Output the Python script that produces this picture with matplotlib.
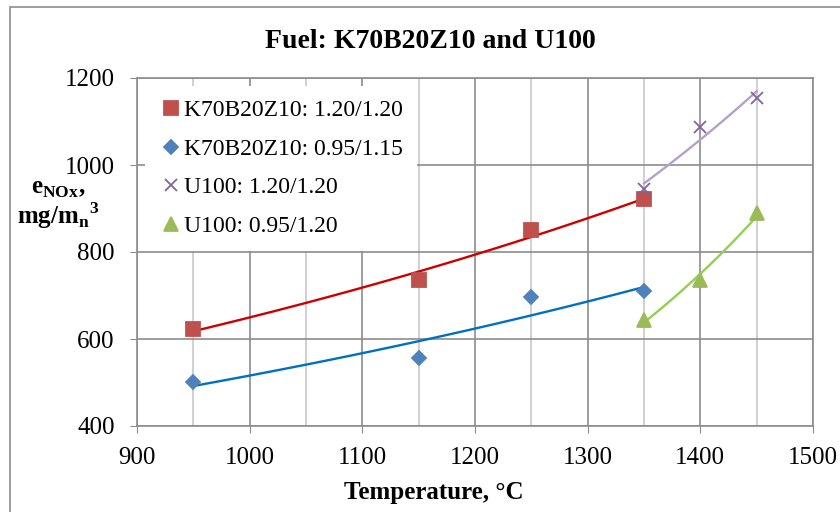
import numpy as np
import matplotlib.pyplot as plt
from matplotlib.ticker import MultipleLocator
from matplotlib.patches import Rectangle

plt.rcParams['font.family'] = ['Liberation Serif', 'DejaVu Serif']
plt.rcParams['mathtext.fontset'] = 'custom'
plt.rcParams['mathtext.rm'] = 'Liberation Serif'
plt.rcParams['mathtext.bf'] = 'Liberation Serif:bold'

# data
t_k_120 = [950, 1150, 1250, 1350]
e_k_120 = [623, 736, 850, 922]
t_k_095 = [950, 1150, 1250, 1350]
e_k_095 = [501, 556, 697, 710]
t_u_120 = [1350, 1400, 1450]
e_u_120 = [945, 1087, 1154]
t_u_095 = [1350, 1400, 1450]
e_u_095 = [644, 736, 890]

labels = ['K70B20Z10: 1.20/1.20', 'K70B20Z10: 0.95/1.15',
          'U100: 1.20/1.20', 'U100: 0.95/1.20']


def exp_trend(x, y, n=100):
    # exponential trendline like excel does
    b, a = np.polyfit(x, np.log(y), 1)
    xs = np.linspace(min(x), max(x), n)
    return xs, np.exp(a + b * xs)


fig = plt.figure(figsize=(8.4, 5.12), dpi=100)
ax = fig.add_axes([137 / 840, 1 - 426 / 512, (813 - 137) / 840, (426 - 78) / 512])

series = [
    (t_k_120, e_k_120, 's', '#C0504D', '#CC0000', 9.5),
    (t_k_095, e_k_095, 'D', '#4F81BD', '#0070C0', 7.5),
    (t_u_120, e_u_120, 'x', '#8064A2', '#B3A2C7', 9),
    (t_u_095, e_u_095, '^', '#9BBB59', '#92D050', 10),
]

for (x, y, m, mc, lc, ms), lab in zip(series, labels):
    xs, ys = exp_trend(x, y)
    ax.plot(xs, ys, color=lc, lw=1.7, zorder=3)
    ax.plot(x, y, ls='none', marker=m, color=mc, ms=ms, mew=1.3, label=lab, zorder=4)

ax.set_xlim(900, 1500)
ax.set_ylim(400, 1200)
ax.xaxis.set_major_locator(MultipleLocator(100))
ax.xaxis.set_minor_locator(MultipleLocator(50))
ax.yaxis.set_major_locator(MultipleLocator(200))
ax.grid(which='major', color='#8c8c8c', lw=1.2, zorder=0)
ax.grid(which='minor', axis='x', color='#c8c8c8', lw=1.2, zorder=0)
ax.tick_params(which='major', direction='out', length=5, color='#8c8c8c',
               labelsize=18)
ax.tick_params(axis='x', pad=10)
ax.tick_params(axis='y', pad=11)
ax.tick_params(which='minor', length=0)
for s in ax.spines.values():
    s.set_color('#8c8c8c')
    s.set_linewidth(1.2)

ax.set_xlabel('Temperature, °C', fontsize=18, fontweight='bold', va='center')
ax.xaxis.set_label_coords((434 - 137) / 676, (426 - 492) / 348)

fig.text(58 / 840, 1 - 188 / 512, r'$\mathbf{e}_{\mathbf{NOx}}$,', fontsize=18,
         fontweight='bold', ha='center', va='center')
fig.text(58 / 840, 1 - 216 / 512,
         r'$\mathbf{mg/}{\mathbf{m}_{\mathbf{n}}}^{\mathbf{3}}$', fontsize=18,
         ha='center', va='center')

fig.suptitle('Fuel: K70B20Z10 and U100', x=430 / 840, y=1 - 42 / 512, va='center',
             fontsize=20, fontweight='bold')

leg = ax.legend(loc='upper left', bbox_to_anchor=(0.012, 0.978), fontsize=17,
                frameon=True, handletextpad=0.05, handlelength=1.0,
                labelspacing=0.72, borderaxespad=0.0, borderpad=0.6)
leg.get_frame().set_edgecolor('none')
leg.get_frame().set_facecolor('white')
leg.get_frame().set_alpha(1)
leg.set_zorder(5)

# outer chart border (right and bottom edges fall outside the picture)
fig.patches.append(Rectangle((10 / 840, -20 / 512), 860 / 840, 525 / 512,
                             transform=fig.transFigure, fill=False,
                             edgecolor='#8c8c8c', lw=1.2))

fig.savefig('out.png', dpi=100)
